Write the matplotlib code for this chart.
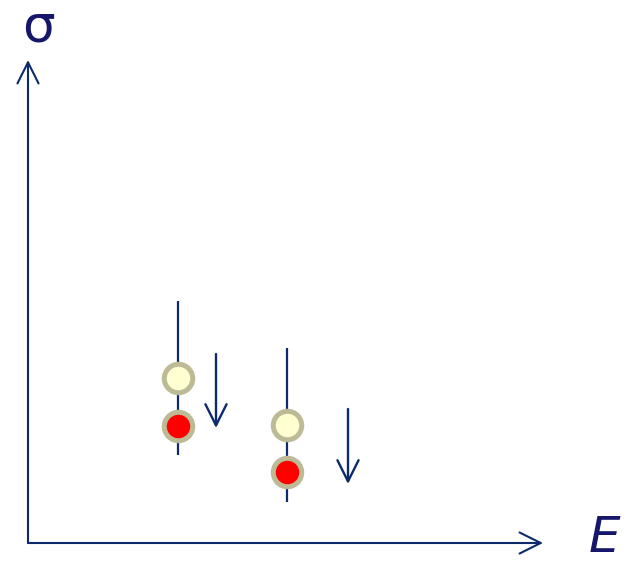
import numpy as np
import matplotlib
matplotlib.use("Agg")
import matplotlib.pyplot as plt

# donnees (unites arbitraires, origine des axes = 0)
E_vals = [150, 259]
sigma_avant = [165, 118]     # cercles jaune pale
sigma_apres = [117, 71]      # cercles rouges
barre_haut = [242, 195]
barre_bas = [88, 41]
fleche_x = [188, 320]
fleche_debut = [189, 134]
fleche_fin = [115, 59]

navy = "#0c2a6c"
texte = "#16166a"

fig = plt.figure(figsize=(6.33, 5.63), dpi=100)
ax = fig.add_axes([0, 0, 1, 1])
ax.set_xlim(-28, 605)
ax.set_ylim(-20, 543)
ax.axis("off")

# axes en fleches
fl = dict(arrowstyle="->", color=navy, lw=1.5, mutation_scale=38, shrinkA=0, shrinkB=0)
ax.annotate("", xy=(515, 0), xytext=(0, 0), arrowprops=fl)
ax.annotate("", xy=(0, 483), xytext=(0, 0), arrowprops=fl)

# barres verticales
ax.vlines(E_vals, barre_bas, barre_haut, color=navy, lw=1.6, zorder=1)

# points
ax.plot(E_vals, sigma_avant, "o", ms=20.5, mfc="#ffffd2", mec="#bdbb96", mew=3.6,
        ls="none", zorder=3)
ax.plot(E_vals, sigma_apres, "o", ms=20.5, mfc="#ff0000", mec="#bdbb96", mew=3.6,
        ls="none", zorder=3)

# fleches vers le bas
for x, y0, y1 in zip(fleche_x, fleche_debut, fleche_fin):
    ax.annotate("", xy=(x, y1), xytext=(x, y0),
                arrowprops=dict(arrowstyle="->", color=navy, lw=1.7, mutation_scale=38,
                                shrinkA=0, shrinkB=0))

ax.text(10, 516, "σ", fontsize=37, color=texte, ha="center", va="center")
ax.text(576, -19, "E", fontsize=36, color=texte, ha="center", va="bottom", style="italic")

plt.savefig("out.png", dpi=100)
